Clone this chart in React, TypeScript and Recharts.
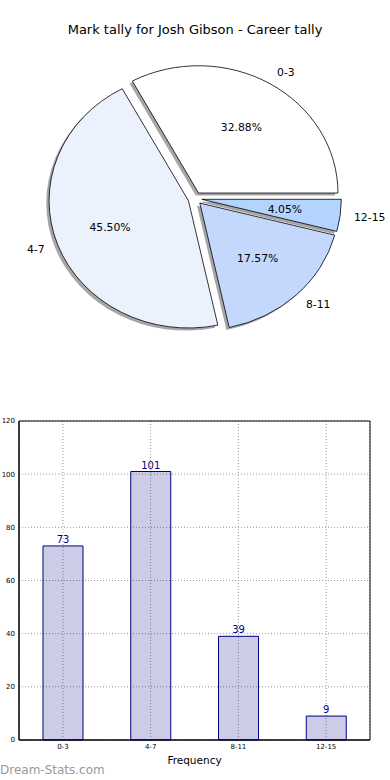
import { PieChart, Pie, BarChart, Bar, XAxis, YAxis, CartesianGrid, LabelList, ReferenceArea } from 'recharts'

const categories = ['0-3', '4-7', '8-11', '12-15']
const tallies = [73, 101, 39, 9]
const sliceColors = ['#ffffff', '#ebf2fe', '#c4d8fe', '#b2d4fe']
const yTicks = [0, 20, 40, 60, 80, 100, 120]

const pieRows = categories.map((name, i) => ({ name, count: tallies[i], fill: sliceColors[i] }))
const barRows = categories.map((name, i) => ({ name, count: tallies[i] }))

const FONT = '"DejaVu Sans", sans-serif'
const ELL = 127.3 / 139.4 // matplotlib pie without equal aspect -> ellipse
const EXPLODE = 0.05
const RAD = Math.PI / 180

function sectorPath(cx: number, cy: number, rx: number, ry: number, a0: number, a1: number) {
  const s = Math.min(a0, a1)
  const e = Math.max(a0, a1)
  const x0 = cx + rx * Math.cos(s * RAD)
  const y0 = cy - ry * Math.sin(s * RAD)
  const x1 = cx + rx * Math.cos(e * RAD)
  const y1 = cy - ry * Math.sin(e * RAD)
  const large = e - s > 180 ? 1 : 0
  return `M${cx},${cy} L${x0},${y0} A${rx},${ry} 0 ${large} 0 ${x1},${y1} Z`
}

function explodedCenter(p: any) {
  const mid = (p.startAngle + p.endAngle) / 2
  const rx = p.outerRadius
  const ry = p.outerRadius * ELL
  return {
    mid,
    rx,
    ry,
    x: p.cx + EXPLODE * rx * Math.cos(mid * RAD),
    y: p.cy - EXPLODE * ry * Math.sin(mid * RAD),
  }
}

function Wedge(p: any) {
  const c = explodedCenter(p)
  const fill = p.payload?.fill ?? p.fill
  return (
    <path
      d={sectorPath(c.x, c.y, c.rx, c.ry, p.startAngle, p.endAngle)}
      fill={fill}
      stroke="#000"
      strokeWidth={0.8}
    />
  )
}

function WedgeShadow(p: any) {
  const c = explodedCenter(p)
  return (
    <path
      d={sectorPath(c.x - 0.02 * c.rx, c.y + 0.02 * c.ry, c.rx, c.ry, p.startAngle, p.endAngle)}
      fill="#4d4d4d"
      fillOpacity={0.5}
      stroke="none"
    />
  )
}

function renderLabel(p: any) {
  const c = explodedCenter(p)
  const cos = Math.cos(c.mid * RAD)
  const sin = Math.sin(c.mid * RAD)
  const name = p.payload?.name ?? p.name
  return (
    <g>
      <text
        x={c.x + 1.1 * c.rx * cos}
        y={c.y - 1.1 * c.ry * sin}
        textAnchor={cos > 0 ? 'start' : 'end'}
        dominantBaseline="central"
        fontSize={10.8}
        fontFamily={FONT}
        fill="#000"
      >
        {name}
      </text>
      <text
        x={c.x + 0.6 * c.rx * cos}
        y={c.y - 0.6 * c.ry * sin}
        textAnchor="middle"
        dominantBaseline="central"
        fontSize={10.8}
        fontFamily={FONT}
        fill="#000"
      >
        {(p.percent * 100).toFixed(2)}%
      </text>
    </g>
  )
}

export default function App() {
  return (
    <div style={{ position: 'absolute', left: 0, top: 0, width: 390, height: 780, background: '#fff', fontFamily: FONT }}>
      <div style={{ position: 'absolute', top: 22, left: 0, width: 390, textAlign: 'center', fontSize: 13, color: '#000' }}>
        Mark tally for Josh Gibson - Career tally
      </div>
      <div style={{ position: 'absolute', top: 0, left: 0 }}>
        <PieChart width={390} height={390} margin={{ top: 0, right: 0, bottom: 0, left: 0 }}>
          <Pie
            data={pieRows}
            dataKey="count"
            nameKey="name"
            cx={195}
            cy={198.5}
            outerRadius={139.4}
            startAngle={0}
            endAngle={360}
            stroke="none"
            shape={WedgeShadow}
            inactiveShape={WedgeShadow}
            isAnimationActive={false}
          />
          <Pie
            data={pieRows}
            dataKey="count"
            nameKey="name"
            cx={195}
            cy={198.5}
            outerRadius={139.4}
            startAngle={0}
            endAngle={360}
            shape={Wedge}
            inactiveShape={Wedge}
            label={renderLabel}
            labelLine={false}
            isAnimationActive={false}
          />
        </PieChart>
      </div>
      <div style={{ position: 'absolute', top: 400, left: 0 }}>
        <BarChart width={390} height={380} data={barRows} margin={{ top: 21, right: 20, left: 0, bottom: 0 }}>
          <CartesianGrid stroke="#999" strokeDasharray="1 2" />
          <XAxis
            dataKey="name"
            height={40}
            tickSize={0}
            tickMargin={4}
            tick={{ fontSize: 7, fill: '#000', fontFamily: FONT }}
            axisLine={{ stroke: '#000' }}
            label={{ value: 'Frequency', position: 'insideBottom', offset: 16, fontSize: 10.5, fill: '#000', fontFamily: FONT }}
          />
          <YAxis
            domain={[0, 120]}
            ticks={yTicks}
            width={19}
            tickSize={0}
            tickMargin={4}
            tick={{ fontSize: 7, fill: '#000', fontFamily: FONT }}
            axisLine={{ stroke: '#000' }}
          />
          <ReferenceArea y1={0} y2={120} fill="none" stroke="#000" strokeWidth={1} />
          <Bar dataKey="count" barSize={40} fill="#000080" fillOpacity={0.2} stroke="#000080" strokeWidth={1} isAnimationActive={false}>
            <LabelList dataKey="count" position="top" offset={3} fill="#000080" fontSize={10} fontFamily={FONT} />
          </Bar>
        </BarChart>
      </div>
      <div style={{ position: 'absolute', left: 0, top: 762, fontSize: 12, color: '#999', lineHeight: '16px' }}>
        Dream-Stats.com
      </div>
    </div>
  )
}
